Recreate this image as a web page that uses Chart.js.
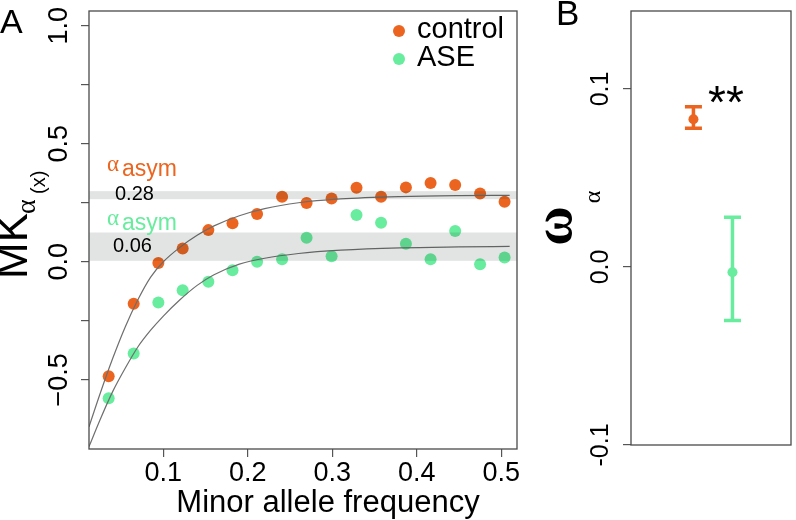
<!DOCTYPE html>
<html>
<head>
<meta charset="utf-8">
<script src="https://cdn.jsdelivr.net/npm/chart.js@4"></script>
<style>
html, body { margin: 0; padding: 0; background: #fff; }
#chartA { position: absolute; left: 0; top: 0; }
#chartB { position: absolute; left: 545px; top: 0; }
</style>
</head>
<body>
<canvas id="chartA" width="545" height="520"></canvas>
<canvas id="chartB" width="251" height="520"></canvas>
<script>
// panel A: MK alpha by minor allele frequency bin
const mafBins = [0.0353, 0.0649, 0.0941, 0.1229, 0.1533, 0.1819, 0.2110, 0.2406, 0.2696, 0.2992, 0.3287, 0.3578, 0.3872, 0.4164, 0.4455, 0.4750, 0.5040];
const mkControl = [-0.485, -0.178, -0.005, 0.056, 0.134, 0.163, 0.202, 0.275, 0.249, 0.268, 0.313, 0.275, 0.315, 0.334, 0.325, 0.289, 0.254];
const mkASE = [-0.578, -0.389, -0.173, -0.121, -0.085, -0.036, 0.000, 0.011, 0.102, 0.023, 0.198, 0.165, 0.076, 0.011, 0.130, -0.011, 0.018];

// fitted curves
const fitX = [0.012, 0.025, 0.04, 0.055, 0.07, 0.085, 0.1, 0.12, 0.14, 0.16, 0.19, 0.22, 0.26, 0.31, 0.38, 0.45, 0.51];
const fitYControl = [-0.699, -0.56, -0.41, -0.275, -0.16, -0.065, 0.0, 0.062, 0.112, 0.152, 0.195, 0.225, 0.250, 0.266, 0.276, 0.280, 0.281];
const fitYASE = [-0.783, -0.67, -0.55, -0.45, -0.36, -0.29, -0.23, -0.16, -0.10, -0.055, -0.01, 0.015, 0.035, 0.049, 0.059, 0.063, 0.065];

// alpha asym confidence bands [low, high]
const bandControl = [0.265, 0.299];
const bandASE = [0.004, 0.124];
const asymControl = "0.28";
const asymASE = "0.06";

const xTicksA = [0.1, 0.2, 0.3, 0.4, 0.5];
const yTicksA = [-0.5, -0.25, 0, 0.25, 0.5, 0.75, 1.0];
const yLabelValsA = [-0.5, 0, 0.5, 1.0];
const yLabelsA = ["\u22120.5", "0.0", "0.5", "1.0"];

// panel B: omega alpha
const omegaGroups = ["control", "ASE"];
const omegaPos = [1, 2];
const omegaMean = [0.083, -0.003];
const omegaLow = [0.078, -0.030];
const omegaHigh = [0.090, 0.028];
const yTicksB = [-0.1, 0, 0.1];
const yLabelsB = ["-0.1", "0.0", "0.1"];

const orange = "#ec6520";
const green = "#68ec9e";
const sans = "'Liberation Sans', Arial, sans-serif";
const serif = "'Liberation Serif', 'Times New Roman', serif";

function vtext(ctx, txt, x, y, font, color, align) {
	ctx.save();
	ctx.translate(x, y);
	ctx.rotate(-Math.PI / 2);
	ctx.font = font;
	ctx.fillStyle = color;
	ctx.textAlign = align || "center";
	ctx.textBaseline = "alphabetic";
	ctx.fillText(txt, 0, 0);
	ctx.restore();
}

function text(ctx, txt, x, y, font, color) {
	ctx.font = font;
	ctx.fillStyle = color;
	ctx.textAlign = "left";
	ctx.textBaseline = "alphabetic";
	ctx.fillText(txt, x, y);
}

const decorA = {
	id: "decorA",
	afterDatasetsDraw(chart) {
		const { ctx, chartArea: a, scales: { y } } = chart;
		ctx.save();
		ctx.fillStyle = "rgba(20, 30, 25, 0.12)";
		[bandControl, bandASE].forEach(b => {
			const top = y.getPixelForValue(b[1]);
			const bot = y.getPixelForValue(b[0]);
			ctx.fillRect(a.left, top, a.right - a.left, bot - top);
		});
		ctx.restore();
	},
	afterDraw(chart) {
		const { ctx, chartArea: a, scales: { y } } = chart;
		ctx.save();
		ctx.strokeStyle = "#4a4a4a";
		ctx.lineWidth = 1.3;
		ctx.strokeRect(a.left, a.top, a.right - a.left, a.bottom - a.top);

		// rotated y tick labels
		yLabelValsA.forEach((v, i) => {
			ctx.save();
			ctx.translate(60, y.getPixelForValue(v));
			ctx.rotate(-Math.PI / 2);
			ctx.font = "27px " + sans;
			ctx.fillStyle = "#000";
			ctx.textAlign = "center";
			ctx.textBaseline = "middle";
			ctx.fillText(yLabelsA[i], 0, 0);
			ctx.restore();
		});

		// y title MK_alpha (x)
		vtext(ctx, "MK", 27, 279, "44px " + sans, "#000", "left");
		vtext(ctx, "\u03b1", 35, 214, "28px " + serif, "#000", "left");
		vtext(ctx, "(x)", 45, 194, "20px " + sans, "#000", "left");

		// x title
		ctx.font = "31px " + sans;
		ctx.fillStyle = "#000";
		ctx.textAlign = "center";
		ctx.fillText("Minor allele frequency", 328, 512);

		// panel letter
		text(ctx, "A", 0, 33, "34px " + sans, "#000");

		// legend
		[[orange, "control", 31, 38], [green, "ASE", 59, 66]].forEach(l => {
			ctx.beginPath();
			ctx.arc(399, l[2], 6, 0, Math.PI * 2);
			ctx.fillStyle = l[0];
			ctx.fill();
			text(ctx, l[1], 417, l[3], "29px " + sans, "#000");
		});

		// alpha asym labels
		text(ctx, "\u03b1", 107, 171, "23px " + serif, orange);
		text(ctx, "asym", 122, 176, "23px " + sans, orange);
		text(ctx, asymControl, 115, 200, "20px " + sans, "#000");
		text(ctx, "\u03b1", 107, 225, "23px " + serif, green);
		text(ctx, "asym", 122, 230, "23px " + sans, green);
		text(ctx, asymASE, 113, 252, "20px " + sans, "#000");
		ctx.restore();
	}
};

const axisLine = { display: false };
const tickGrid = { drawOnChartArea: false, drawTicks: true, tickLength: 8, color: "#555", lineWidth: 1.2 };

new Chart(document.getElementById("chartA"), {
	type: "scatter",
	data: {
		datasets: [
			{
				label: "control fit",
				data: fitX.map((v, i) => ({ x: v, y: fitYControl[i] })),
				showLine: true,
				borderColor: "#6e6e6e",
				borderWidth: 1.2,
				pointRadius: 0,
				cubicInterpolationMode: "monotone",
				order: 0
			},
			{
				label: "ASE fit",
				data: fitX.map((v, i) => ({ x: v, y: fitYASE[i] })),
				showLine: true,
				borderColor: "#6e6e6e",
				borderWidth: 1.2,
				pointRadius: 0,
				cubicInterpolationMode: "monotone",
				order: 1
			},
			{
				label: "control",
				data: mafBins.map((v, i) => ({ x: v, y: mkControl[i] })),
				backgroundColor: orange,
				borderWidth: 0,
				pointRadius: 6,
				order: 2
			},
			{
				label: "ASE",
				data: mafBins.map((v, i) => ({ x: v, y: mkASE[i] })),
				backgroundColor: green,
				borderWidth: 0,
				pointRadius: 6,
				order: 3
			}
		]
	},
	options: {
		responsive: false,
		animation: false,
		layout: { padding: { left: 0, right: 28, top: 11, bottom: 0 } },
		plugins: {
			legend: { display: false },
			tooltip: { enabled: false }
		},
		scales: {
			x: {
				type: "linear",
				min: 0.012,
				max: 0.5187,
				afterBuildTicks: s => { s.ticks = xTicksA.map(v => ({ value: v })); },
				afterFit: s => { s.height = 71; s.paddingLeft = 0; s.paddingRight = 0; },
				grid: tickGrid,
				border: axisLine,
				ticks: {
					font: { family: sans, size: 27 },
					color: "#000",
					padding: 0,
					maxRotation: 0,
					callback: v => v.toFixed(1)
				}
			},
			y: {
				min: -0.793,
				max: 1.062,
				afterBuildTicks: s => { s.ticks = yTicksA.map(v => ({ value: v })); },
				afterFit: s => { s.width = 89; s.paddingTop = 0; s.paddingBottom = 0; },
				grid: tickGrid,
				border: axisLine,
				ticks: { display: false }
			}
		}
	},
	plugins: [decorA]
});

const decorB = {
	id: "decorB",
	beforeDatasetsDraw(chart) {
		const { ctx, scales: { x, y } } = chart;
		ctx.save();
		ctx.lineWidth = 3.5;
		omegaPos.forEach((p, i) => {
			const px = x.getPixelForValue(p);
			const top = y.getPixelForValue(omegaHigh[i]);
			const bot = y.getPixelForValue(omegaLow[i]);
			ctx.strokeStyle = i === 0 ? orange : green;
			ctx.beginPath();
			ctx.moveTo(px, top);
			ctx.lineTo(px, bot);
			ctx.moveTo(px - 8.5, top);
			ctx.lineTo(px + 8.5, top);
			ctx.moveTo(px - 8.5, bot);
			ctx.lineTo(px + 8.5, bot);
			ctx.stroke();
		});
		ctx.restore();
	},
	afterDraw(chart) {
		const { ctx, chartArea: a, scales: { y } } = chart;
		ctx.save();
		ctx.strokeStyle = "#4a4a4a";
		ctx.lineWidth = 1.3;
		ctx.strokeRect(a.left, a.top, a.right - a.left, a.bottom - a.top);

		yTicksB.forEach((v, i) => {
			ctx.save();
			ctx.translate(56, y.getPixelForValue(v));
			ctx.rotate(-Math.PI / 2);
			ctx.font = "25px " + sans;
			ctx.fillStyle = "#000";
			ctx.textAlign = "center";
			ctx.textBaseline = "middle";
			ctx.fillText(yLabelsB[i], 0, 0);
			ctx.restore();
		});

		// y title omega_alpha
		vtext(ctx, "\u03c9", 26, 226, "bold 54px " + serif, "#000", "center");
		vtext(ctx, "\u03b1", 55, 197, "24px " + serif, "#000", "center");

		text(ctx, "B", 11, 25, "35px " + sans, "#000");
		text(ctx, "**", 163, 118, "46px " + sans, "#000");
		ctx.restore();
	}
};

new Chart(document.getElementById("chartB"), {
	type: "scatter",
	data: {
		datasets: [
			{
				label: "omega alpha",
				data: omegaPos.map((v, i) => ({ x: v, y: omegaMean[i] })),
				backgroundColor: [orange, green],
				borderWidth: 0,
				pointRadius: 5
			}
		]
	},
	options: {
		responsive: false,
		animation: false,
		layout: { padding: { left: 0, right: 4, top: 11, bottom: 75 } },
		plugins: {
			legend: { display: false },
			tooltip: { enabled: false }
		},
		scales: {
			x: {
				type: "linear",
				display: false,
				min: -0.6,
				max: 3.5
			},
			y: {
				min: -0.1,
				max: 0.1438,
				afterBuildTicks: s => { s.ticks = yTicksB.map(v => ({ value: v })); },
				afterFit: s => { s.width = 86; s.paddingTop = 0; s.paddingBottom = 0; },
				grid: tickGrid,
				border: axisLine,
				ticks: { display: false }
			}
		}
	},
	plugins: [decorB]
});
</script>
</body>
</html>
